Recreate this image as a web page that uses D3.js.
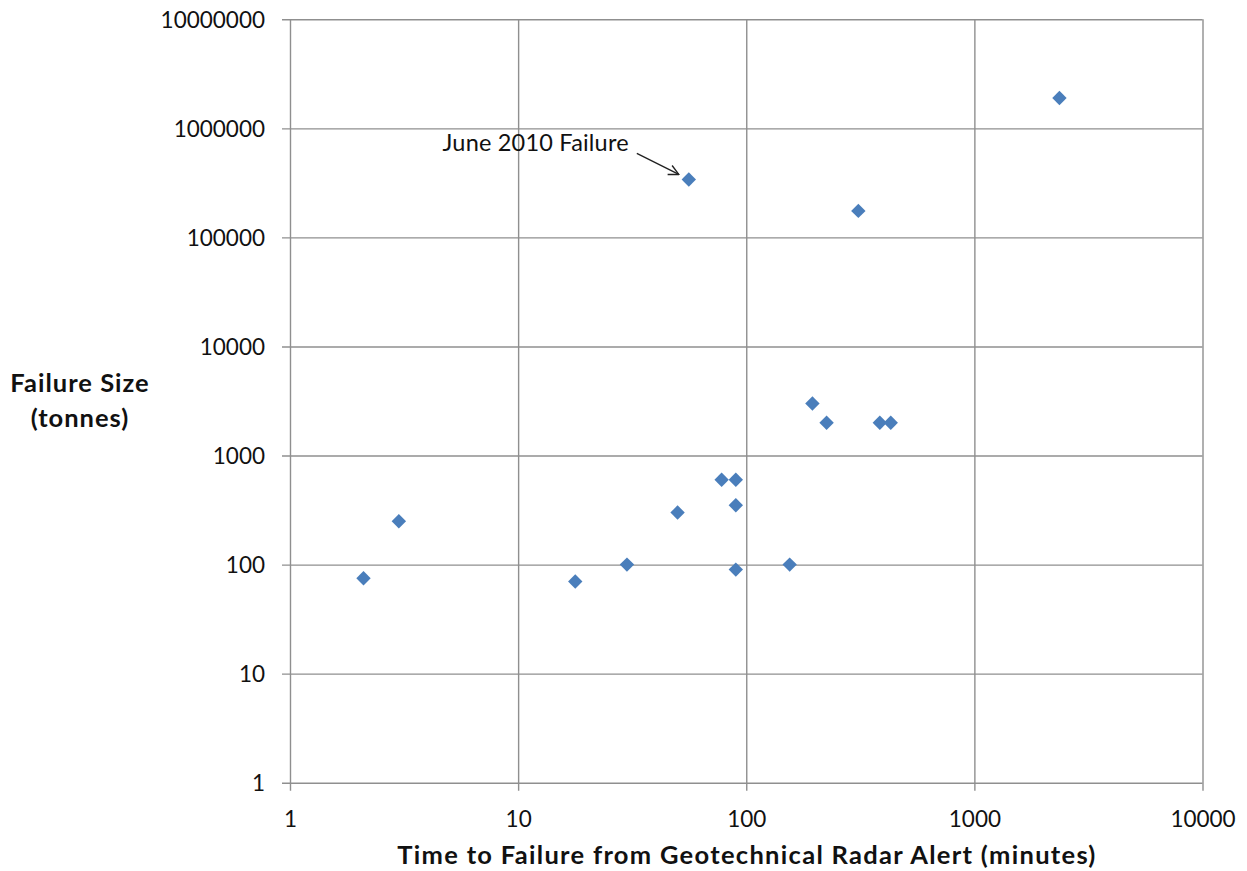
<!DOCTYPE html>
<html>
<head>
<meta charset="utf-8">
<script src="https://cdn.jsdelivr.net/npm/d3@7"></script>
<style>
  html, body { margin: 0; padding: 0; background: #fff; }
  svg { display: block; }
  text { font-family: Lato, "Open Sans", sans-serif; fill: #111; }
</style>
</head>
<body>
<script>
// Time to failure (minutes) after a geotechnical radar alert, and failure size (tonnes)
const timeToFailure = [2.1, 3, 17.8, 30, 50, 56, 78, 90, 90, 90, 155, 195, 225, 310, 385, 430, 2360];
const failureSize   = [75, 250, 70, 100, 300, 340000, 600, 600, 350, 90, 100, 3000, 2000, 175000, 2000, 2000, 1900000];

const xTickValues = [1, 10, 100, 1000, 10000];
const yTickValues = [1, 10, 100, 1000, 10000, 100000, 1000000, 10000000];

const xTitle = "Time to Failure from Geotechnical Radar Alert (minutes)";
const yTitleLines = ["Failure Size", "(tonnes)"];
const callout = { index: 5, text: "June 2010 Failure" };

const W = 1247, H = 871;
const margin = { left: 290, right: 44.5, top: 19.3, bottom: 88.3 };
const innerW = W - margin.left - margin.right;
const innerH = H - margin.top - margin.bottom;

const svg = d3.select("body").append("svg").attr("width", W).attr("height", H);

svg.append("defs").append("marker")
  .attr("id", "open-arrow")
  .attr("viewBox", "0 0 12 12")
  .attr("refX", 11).attr("refY", 6)
  .attr("markerWidth", 12).attr("markerHeight", 12)
  .attr("markerUnits", "userSpaceOnUse")
  .attr("orient", "auto")
  .append("path")
  .attr("d", "M1,1 L11,6 L1,11")
  .attr("fill", "none")
  .attr("stroke", "#222")
  .attr("stroke-width", 1.4);

const g = svg.append("g").attr("transform", `translate(${margin.left},${margin.top})`);

const x = d3.scaleLog().domain([1, 10000]).range([0, innerW]);
const y = d3.scaleLog().domain([1, 10000000]).range([innerH, 0]);

const gridColor = "#8f8f8f";
const tickOut = 8;

// Horizontal gridlines with outside ticks, y-axis labels
const yAxis = g.append("g")
  .call(d3.axisLeft(y).tickValues(yTickValues).tickFormat(d3.format("d")).tickSize(-innerW).tickPadding(25));
yAxis.select(".domain").remove();
yAxis.selectAll(".tick line")
  .attr("x1", -tickOut).attr("x2", innerW)
  .attr("stroke", gridColor).attr("stroke-width", 1.4);
yAxis.selectAll(".tick text")
  .attr("dy", "0.36em")
  .style("font-size", "22.5px").style("font-family", "Lato, sans-serif").attr("fill", "#111");

// Vertical gridlines with outside ticks, x-axis labels
const xAxis = g.append("g").attr("transform", `translate(0,${innerH})`)
  .call(d3.axisBottom(x).tickValues(xTickValues).tickFormat(d3.format("d")).tickSize(-innerH).tickPadding(28));
xAxis.select(".domain").remove();
xAxis.selectAll(".tick line")
  .attr("y1", tickOut).attr("y2", -innerH)
  .attr("stroke", gridColor).attr("stroke-width", 1.4);
xAxis.selectAll(".tick text")
  .style("font-size", "22.5px").style("font-family", "Lato, sans-serif").attr("fill", "#111");

// Diamond markers
const pts = timeToFailure.map((t, i) => ({ t, s: failureSize[i] }));
const r = 7.2;
g.append("g").selectAll("path")
  .data(pts)
  .join("path")
  .attr("transform", d => `translate(${x(d.t)},${y(d.s)})`)
  .attr("d", `M0,${-r} L${r},0 L0,${r} L${-r},0 Z`)
  .attr("fill", "#4a7ebb");

// Callout for the June 2010 event
const cx = x(timeToFailure[callout.index]);
const cy = y(failureSize[callout.index]);
g.append("line")
  .attr("x1", cx - 52).attr("y1", cy - 26)
  .attr("x2", cx - 10).attr("y2", cy - 5)
  .attr("stroke", "#222").attr("stroke-width", 1.4)
  .attr("marker-end", "url(#open-arrow)");
g.append("text")
  .attr("x", cx - 60).attr("y", cy - 28)
  .attr("text-anchor", "end")
  .style("font-size", "23.5px")
  .style("letter-spacing", "0.2px")
  .text(callout.text);

// Axis titles
svg.append("text")
  .attr("x", 747).attr("y", 864)
  .attr("text-anchor", "middle")
  .style("font-size", "25.5px").style("font-weight", "bold")
  .style("letter-spacing", "1.3px")
  .text(xTitle);

const yt = svg.append("text")
  .attr("text-anchor", "middle")
  .style("font-size", "25.5px").style("font-weight", "bold")
  .style("letter-spacing", "1px");
yTitleLines.forEach((line, i) => {
  yt.append("tspan").attr("x", 80).attr("y", 392 + i * 35).text(line);
});
</script>
</body>
</html>
